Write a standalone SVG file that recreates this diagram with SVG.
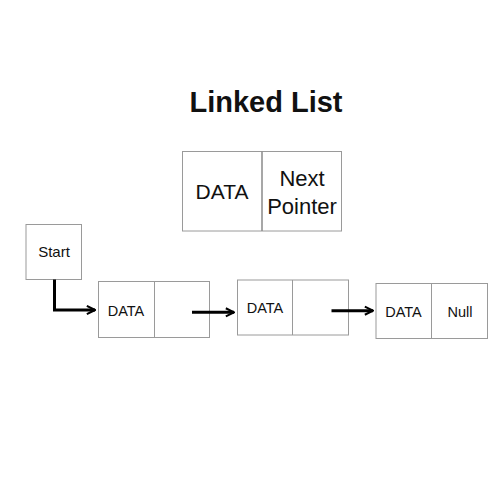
<svg xmlns="http://www.w3.org/2000/svg" width="500" height="500" viewBox="0 0 500 500">
<defs>
<style>
.box{fill:#fff;stroke:#9a9a9a;stroke-width:1}
.div{stroke:#8a8a8a;stroke-width:1.5}
.t{font-family:"Liberation Sans",Arial,sans-serif;fill:#111;text-anchor:middle}
.c{fill:none;stroke:#000;stroke-width:3}
</style>
<marker id="ah" viewBox="0 0 10 10" refX="9" refY="5" markerWidth="3.4" markerHeight="3.8" orient="auto" markerUnits="strokeWidth">
<path d="M1,1 L9,5 L1,9" fill="none" stroke="#000" stroke-width="2"/>
</marker>
</defs>
<rect width="500" height="500" fill="#fff"/>
<text class="t" x="266" y="111.5" font-size="29" font-weight="bold">Linked List</text>
<g id="legend">
<rect class="box" x="182.5" y="151.5" width="159" height="79.5"/>
<line class="div" x1="262" y1="151.5" x2="262" y2="231"/>
<text class="t" x="222" y="199" font-size="21">DATA</text>
<text class="t" x="302" y="185.5" font-size="22">Next</text>
<text class="t" x="302" y="213.5" font-size="22">Pointer</text>
</g>
<g id="start">
<rect class="box" x="26" y="224.5" width="55.5" height="55"/>
<text class="t" x="54" y="256.5" font-size="15">Start</text>
</g>
<g id="node1">
<rect class="box" x="98.5" y="281.5" width="111" height="56"/>
<line class="box" x1="154.5" y1="281.5" x2="154.5" y2="337.5"/>
<text class="t" x="126" y="315.5" font-size="14.5">DATA</text>
</g>
<g id="node2">
<rect class="box" x="237.5" y="280" width="111" height="55"/>
<line class="box" x1="292.5" y1="280" x2="292.5" y2="335"/>
<text class="t" x="265" y="312.5" font-size="14.5">DATA</text>
</g>
<g id="node3">
<rect class="box" x="376" y="283.5" width="111.5" height="55"/>
<line class="box" x1="431.5" y1="283.5" x2="431.5" y2="338.5"/>
<text class="t" x="403.5" y="316.5" font-size="14.5">DATA</text>
<text class="t" x="460" y="316.5" font-size="14.5">Null</text>
</g>
<g id="connectors">
<path class="c" d="M54.5,279.5 V310 H95" marker-end="url(#ah)"/>
<path class="c" d="M192,312.3 H234" marker-end="url(#ah)"/>
<path class="c" d="M331.5,310.7 H373" marker-end="url(#ah)"/>
</g>
</svg>
